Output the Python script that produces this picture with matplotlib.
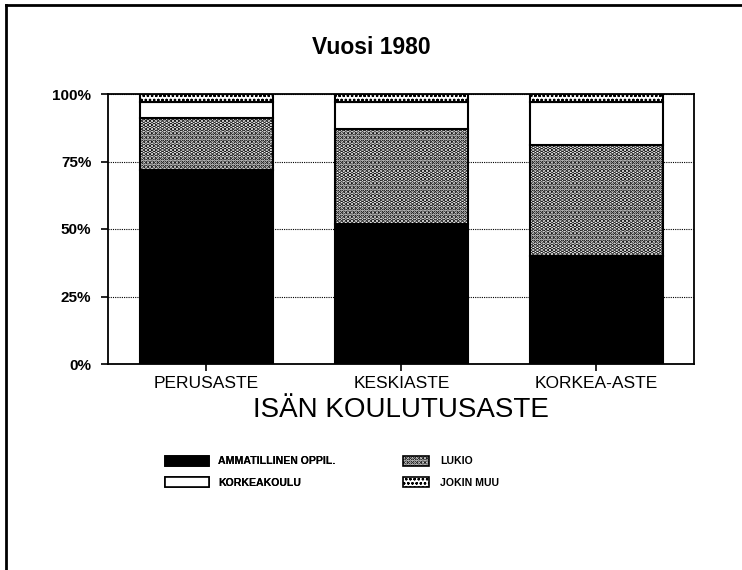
import matplotlib
matplotlib.use("Agg")
import matplotlib.pyplot as plt
from matplotlib.patches import Patch
from matplotlib.lines import Line2D
import numpy as np

plt.rcParams['font.family'] = ['Liberation Sans', 'DejaVu Sans']
plt.rcParams['hatch.linewidth'] = 1.0

title = "Vuosi 1980"
xlabel = "ISÄN KOULUTUSASTE"
categories = ["PERUSASTE", "KESKIASTE", "KORKEA-ASTE"]
series_names = ["AMMATILLINEN OPPIL.", "LUKIO", "KORKEAKOULU", "JOKIN MUU"]
ammatillinen = [72, 52, 40]
lukio = [19, 35, 41]
korkeakoulu = [6, 10, 16]
jokin_muu = [3, 3, 3]
yticks = [0, 25, 50, 75, 100]
ytick_labels = ["0%", "25%", "50%", "75%", "100%"]

fig = plt.figure(figsize=(7.42, 5.70), dpi=100)
ax = fig.add_axes([108/742, 1-364/570, (694-108)/742, (364-94)/570])

x = np.arange(len(categories))
w = 0.68
lukio_hatch = "...."
muu_hatch = "oooo"
styles = [
    dict(facecolor="black", hatch=None, hlw=1.0),
    dict(facecolor="white", hatch=lukio_hatch, hlw=2.3),
    dict(facecolor="white", hatch=None, hlw=1.0),
    dict(facecolor="white", hatch=muu_hatch, hlw=0.6),
]


def set_hlw(patch, lw):
    if hasattr(patch, "set_hatch_linewidth"):
        patch.set_hatch_linewidth(lw)
    else:
        patch._hatch_linewidth = lw


data = [ammatillinen, lukio, korkeakoulu, jokin_muu]
bottom = np.zeros(len(categories))
for name, vals, st in zip(series_names, data, styles):
    bars = ax.bar(x, vals, w, bottom=bottom, facecolor=st["facecolor"], hatch=st["hatch"],
                  edgecolor="black", linewidth=1.5, zorder=3)
    for b in bars:
        set_hlw(b, st["hlw"])
    bottom += np.array(vals)

ax.set_xlim(-0.505, 2.5)
ax.set_ylim(0, 100)
ax.set_yticks(yticks)
ax.set_yticklabels(ytick_labels, fontsize=11, fontweight="bold")
ax.set_xticks(x)
ax.set_xticklabels(categories, fontsize=12.5)
ax.tick_params(axis="both", direction="out", length=5, width=1.2, pad=4)
ax.tick_params(axis="y", pad=7)
for s in ax.spines.values():
    s.set_linewidth(1.3)
ax.yaxis.grid(True, linestyle=(0, (1, 1)), color="black", linewidth=0.8, zorder=0)
ax.set_axisbelow(True)

ax.set_xlabel(xlabel, fontsize=20, labelpad=4)
fig.text(0.5, 1-48/570, title, ha="center", va="center", fontsize=16.5, fontweight="bold")

# legend: two columns with different handle widths
left_handles = [Patch(facecolor="black", edgecolor="black", linewidth=1.2),
                Patch(facecolor="white", edgecolor="black", linewidth=1.2)]
left_labels = [series_names[0], series_names[2]]
right_handles = [Patch(facecolor="white", edgecolor="black", hatch=lukio_hatch, linewidth=1.2),
                 Patch(facecolor="white", edgecolor="black", hatch=muu_hatch, linewidth=1.2)]
right_labels = [series_names[1], series_names[3]]
leg1 = fig.legend(left_handles, left_labels, loc="upper left",
                  bbox_to_anchor=(155/742, 1-446/570), frameon=False,
                  handlelength=4.2, handleheight=1.15, handletextpad=0.85,
                  labelspacing=1.0, prop=dict(size=7.6, weight="bold"))
leg2 = fig.legend(right_handles, right_labels, loc="upper left",
                  bbox_to_anchor=(393/742, 1-446/570), frameon=False,
                  handlelength=2.5, handleheight=1.15, handletextpad=1.1,
                  labelspacing=1.0, prop=dict(size=7.6, weight="bold"))
fig.add_artist(leg1)
leg_patches = leg2.get_patches()
set_hlw(leg_patches[0], 2.3)
set_hlw(leg_patches[1], 0.6)

# outer frame lines (left and top)
fig.add_artist(Line2D([6/742, 6/742], [0, 1-5/570], transform=fig.transFigure, color="black", lw=2))
fig.add_artist(Line2D([6/742, 1], [1-5/570, 1-5/570], transform=fig.transFigure, color="black", lw=2))

fig.savefig("out.png", dpi=100)
